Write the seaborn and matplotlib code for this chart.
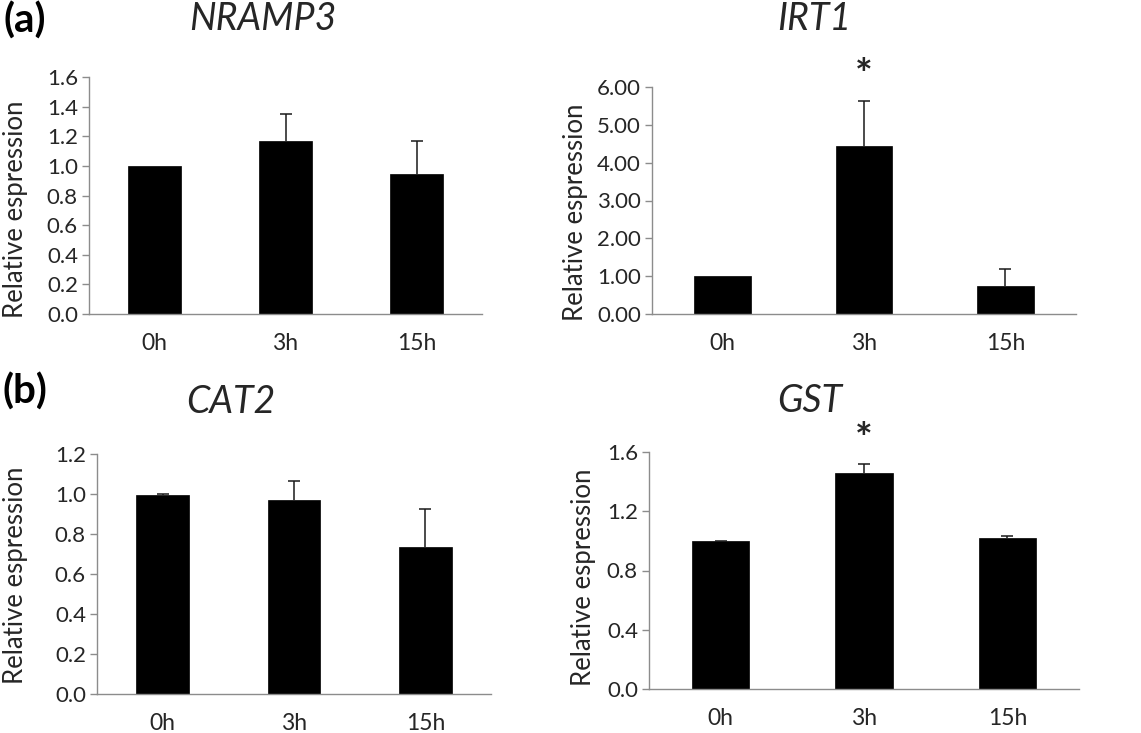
'''
Relative expression of four genes at 0h, 3h and 15h (bar + upper error bar)
Output: out.png
'''

import numpy as np
import pandas as pd
import seaborn as sns
import matplotlib.pyplot as plt
import matplotlib.transforms as mtransforms

# data
times = ['0h', '3h', '15h']

nramp3_mean = [1.00, 1.17, 0.945]
nramp3_err = [0.0, 0.18, 0.22]

irt1_mean = [1.00, 4.45, 0.75]
irt1_err = [0.0, 1.18, 0.44]

cat2_mean = [0.995, 0.97, 0.735]
cat2_err = [0.005, 0.097, 0.19]

gst_mean = [0.996, 1.456, 1.019]
gst_err = [0.005, 0.063, 0.015]

irt1_sig = ['', '*', '']
gst_sig = ['', '*', '']

nramp3_ticks = [0.0, 0.2, 0.4, 0.6, 0.8, 1.0, 1.2, 1.4, 1.6]
irt1_ticks = [0.0, 1.0, 2.0, 3.0, 4.0, 5.0, 6.0]
cat2_ticks = [0.0, 0.2, 0.4, 0.6, 0.8, 1.0, 1.2]
gst_ticks = [0.0, 0.4, 0.8, 1.2, 1.6]

# plot settings
sns.set_theme(style="white")
plt.rcParams['font.family'] = ['Lato', 'DejaVu Sans']
AXIS_GRAY = '#8c8c8c'
TEXT_COL = '#262626'

W, H = 1141, 733
fig = plt.figure(figsize=(W / 100, H / 100), dpi=100)


def px_axes(left, top, right, bottom):
    return fig.add_axes([left / W, 1 - bottom / H, (right - left) / W, (bottom - top) / H])


def draw_panel(ax, mean, err, ticks, fmt, label_px, sig=None):
    df = pd.DataFrame({'time': times, 'value': mean})
    sns.barplot(data=df, x='time', y='value', color='black', saturation=1,
                width=0.4, ax=ax, edgecolor='black', linewidth=0.5)
    x = np.arange(len(times))
    # upper error bars only (drop the zero-length errors)
    keep = np.array(err) > 0
    eb = ax.errorbar(x[keep], np.array(mean)[keep],
                     yerr=[np.zeros(keep.sum()), np.array(err)[keep]], fmt='none',
                     ecolor='#1a1a1a', elinewidth=1.1, capsize=4.5, capthick=1.1)
    eb[1][0].set_visible(False)  # lower caps
    ax.set_xlim(-0.5, len(times) - 0.5)
    ax.set_ylim(ticks[0], ticks[-1])
    ax.set_yticks(ticks)
    ax.set_yticklabels([fmt.format(t) for t in ticks], fontsize=16, color=TEXT_COL)
    ax.set_xticks(x)
    ax.set_xticklabels(times, fontsize=16.5, color=TEXT_COL)
    ax.set_xticks(np.arange(len(times) + 1) - 0.5, minor=True)
    ax.tick_params(axis='x', which='major', length=0, pad=14)
    ax.tick_params(axis='x', which='minor', length=7, color=AXIS_GRAY, width=1, direction='out')
    ax.tick_params(axis='y', length=5, color=AXIS_GRAY, width=1, direction='out', pad=3, left=True)
    for side in ['top', 'right']:
        ax.spines[side].set_visible(False)
    for side in ['left', 'bottom']:
        ax.spines[side].set_color(AXIS_GRAY)
        ax.spines[side].set_linewidth(1)
    ax.set_xlabel('')
    ax.set_ylabel('')
    fig.text(label_px[0] / W, 1 - label_px[1] / H, 'Relative espression', rotation=90,
             ha='center', va='center', fontsize=18.5, color=TEXT_COL)
    if sig is not None:
        trans = mtransforms.blended_transform_factory(ax.transData, ax.transAxes)
        for i, s in enumerate(sig):
            if s:
                ax.text(i, 1.045, s, transform=trans, ha='center', va='center',
                        fontsize=30, fontweight='bold', color=TEXT_COL, clip_on=False)


ax1 = px_axes(89, 77, 482, 314)
draw_panel(ax1, nramp3_mean, nramp3_err, nramp3_ticks, '{:.1f}', (16, 209))

ax2 = px_axes(652, 87, 1076, 314)
draw_panel(ax2, irt1_mean, irt1_err, irt1_ticks, '{:.2f}', (576, 212), irt1_sig)

ax3 = px_axes(97, 454, 491, 694)
draw_panel(ax3, cat2_mean, cat2_err, cat2_ticks, '{:.1f}', (16, 575))

ax4 = px_axes(649, 452, 1079, 689)
draw_panel(ax4, gst_mean, gst_err, gst_ticks, '{:.1f}', (583, 577), gst_sig)

# gene titles and panel letters
titles = [('NRAMP3', 263, 19), ('IRT1', 814, 19), ('CAT2', 231, 402), ('GST', 810, 401)]
for name, tx, ty in titles:
    fig.text(tx / W, 1 - ty / H, name, ha='center', va='center', fontsize=27,
             style='italic', color=TEXT_COL)

fig.text(25 / W, 1 - 21 / H, '(a)', ha='center', va='center', fontsize=29,
         fontweight='bold', color='black')
fig.text(25 / W, 1 - 392 / H, '(b)', ha='center', va='center', fontsize=29,
         fontweight='bold', color='black')

plt.savefig('out.png', dpi=100)
plt.close()
